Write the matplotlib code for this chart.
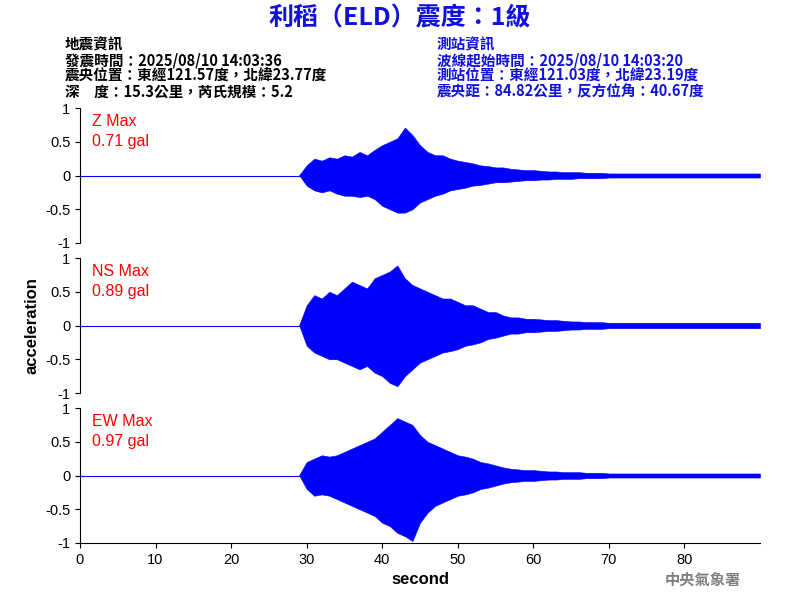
import matplotlib
matplotlib.use("Agg")
import matplotlib.pyplot as plt

plt.rcParams['font.family'] = ['Noto Sans CJK TC', 'DejaVu Sans']

# envelope values read per second (t = 0..90)
t = list(range(0, 91))
pre = [0.005] * 30
z_up = pre + [0.15,0.25,0.22,0.27,0.25,0.3,0.28,0.35,0.3,0.38,0.45,0.5,0.55,0.71,0.6,0.45,0.35,0.3,0.3,0.25,0.22,0.2,0.18,0.15,0.14,0.12,0.12,0.1,0.09,0.08,
              0.08,0.07,0.06,0.06,0.05,0.05,0.05,0.04,0.04,0.04] + [0.03]*21
z_lo = pre + [-0.15,-0.22,-0.25,-0.22,-0.27,-0.3,-0.3,-0.32,-0.3,-0.35,-0.45,-0.5,-0.55,-0.55,-0.5,-0.4,-0.35,-0.3,-0.27,-0.22,-0.2,-0.18,-0.15,-0.14,-0.12,-0.1,-0.1,-0.09,-0.08,-0.07,
              -0.07,-0.06,-0.06,-0.05,-0.05,-0.05,-0.04,-0.04,-0.04,-0.04] + [-0.03]*21
ns_up = pre + [0.3,0.45,0.4,0.5,0.45,0.55,0.65,0.6,0.55,0.7,0.75,0.8,0.89,0.7,0.6,0.55,0.5,0.45,0.4,0.4,0.35,0.3,0.3,0.25,0.2,0.2,0.15,0.12,0.12,0.1,
               0.1,0.09,0.08,0.08,0.07,0.06,0.06,0.05,0.05,0.05] + [0.04]*21
ns_lo = pre + [-0.3,-0.4,-0.45,-0.5,-0.5,-0.55,-0.6,-0.65,-0.6,-0.7,-0.75,-0.85,-0.9,-0.75,-0.65,-0.55,-0.5,-0.45,-0.4,-0.38,-0.35,-0.3,-0.28,-0.25,-0.2,-0.18,-0.15,-0.12,-0.12,-0.1,
               -0.1,-0.09,-0.08,-0.08,-0.07,-0.06,-0.06,-0.05,-0.05,-0.05] + [-0.04]*21
ew_up = pre + [0.2,0.25,0.3,0.28,0.3,0.35,0.4,0.45,0.5,0.55,0.65,0.75,0.85,0.8,0.75,0.6,0.5,0.45,0.4,0.35,0.3,0.28,0.25,0.2,0.18,0.15,0.12,0.1,0.09,0.08,
               0.08,0.07,0.06,0.06,0.05,0.05,0.05,0.04,0.04,0.04] + [0.03]*21
ew_lo = pre + [-0.2,-0.3,-0.28,-0.3,-0.35,-0.4,-0.45,-0.5,-0.55,-0.6,-0.7,-0.75,-0.85,-0.9,-0.97,-0.7,-0.55,-0.45,-0.4,-0.35,-0.3,-0.28,-0.25,-0.2,-0.18,-0.15,-0.12,-0.1,-0.09,-0.08,
               -0.08,-0.07,-0.06,-0.06,-0.05,-0.05,-0.05,-0.04,-0.04,-0.04] + [-0.03]*21
names = ["Z Max", "NS Max", "EW Max"]
maxes = ["0.71 gal", "0.89 gal", "0.97 gal"]
yticks = [-1, -0.5, 0, 0.5, 1]
ytl = ["-1", "-0.5", "0", "0.5", "1"]
xticks = [0, 10, 20, 30, 40, 50, 60, 70, 80]

fig = plt.figure(figsize=(8, 6), dpi=100)
bottoms = [1-243/600, 1-393/600, 1-543/600]
data = [(z_up, z_lo), (ns_up, ns_lo), (ew_up, ew_lo)]
for i, (b, (up, lo)) in enumerate(zip(bottoms, data)):
    ax = fig.add_axes([0.1, b, 0.85, 0.225])
    ax.fill_between(t[29:], lo[29:], up[29:], color='blue', linewidth=0.4, edgecolor='blue')
    ax.plot(t, [0]*len(t), color='blue', lw=0.8)
    ax.set_xlim(0, 90)
    ax.set_ylim(-1, 1)
    ax.set_yticks(yticks)
    ax.set_yticklabels(ytl, family=['Liberation Sans'])
    for s in ['top', 'right']:
        ax.spines[s].set_visible(False)
    ax.tick_params(labelsize=10.5)
    if i < 2:
        ax.spines['bottom'].set_visible(False)
        ax.set_xticks([])
    else:
        ax.set_xticks(xticks)
        ax.set_xticklabels([str(x) for x in xticks], family=['Liberation Sans'])
        ax.set_xlabel("second", fontsize=12, family=['Liberation Sans'], fontweight='bold')
    if i == 1:
        ax.set_ylabel("acceleration", fontsize=12, family=['Liberation Sans'], fontweight='bold')
    ax.text(0.018, 0.9, names[i], transform=ax.transAxes, color='red', fontsize=11.5, family=['Liberation Sans'], va='center')
    ax.text(0.018, 0.75, maxes[i], transform=ax.transAxes, color='red', fontsize=11.5, family=['Liberation Sans'], va='center')

fig.text(0.5, 1-18/600, "利稻（ELD）震度：1級", ha='center', va='center', color='#1010e0', fontsize=18, fontweight='bold')
left = ["地震資訊", "發震時間：2025/08/10 14:03:36", "震央位置：東經121.57度，北緯23.77度", "深　度：15.3公里，芮氏規模：5.2"]
right = ["測站資訊", "波線起始時間：2025/08/10 14:03:20", "測站位置：東經121.03度，北緯23.19度", "震央距：84.82公里，反方位角：40.67度"]
for k, (l, r) in enumerate(zip(left, right)):
    y = 1 - (44 + 16*k)/600
    fig.text(65/800, y, l, color='black', fontsize=10.5, va='center', fontweight='bold')
    fig.text(437/800, y, r, color='#1010e0', fontsize=10.5, va='center', fontweight='bold')
fig.text(703/800, 1-580/600, "中央氣象署", ha='center', va='center', color='gray', fontsize=11, fontweight='bold')
fig.savefig("out.png", dpi=100)
